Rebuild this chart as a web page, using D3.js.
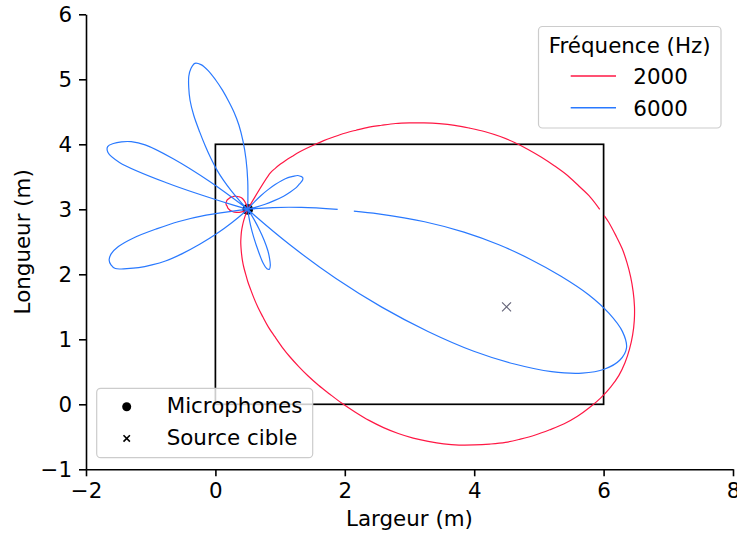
<!DOCTYPE html>
<html>
<head>
<meta charset="utf-8">
<script src="https://cdn.jsdelivr.net/npm/d3@7"></script>
<style>
  body { margin: 0; background: #fff; }
  text { font-family: "DejaVu Sans", sans-serif; }
</style>
</head>
<body>
<svg id="chart" width="737" height="534"></svg>
<script>
// ---- data ----
const xTicks = [-2, 0, 2, 4, 6, 8];
const yTicks = [-1, 0, 1, 2, 3, 4, 5, 6];
const frequencies = ["2000", "6000"];
const roomX = [0, 6];
const roomY = [0, 4];
const micX = [0.49, 0.51, 0.49, 0.51];
const micY = [2.99, 2.99, 3.01, 3.01];
const arrayCenter = [0.5, 3];
const sourceX = [4.5];
const sourceY = [1.5];

// beam patterns around the array centre: [angle (deg), radius (m)]
const beam2000 = [
  [0,5.44],[2,5.30],[4,5.13],[6,4.97],[8,4.79],[10,4.61],[12,4.43],[14,4.25],[16,4.06],[18,3.86],
  [20,3.65],[22,3.45],[24,3.24],[26,3.03],[28,2.83],[30,2.64],[32,2.44],[34,2.26],[36,2.07],[38,1.90],
  [40,1.73],[42,1.58],[44,1.43],[46,1.30],[48,1.18],[50,1.06],[52,0.96],[54,0.86],[56,0.76],[58,0.66],
  [60,0.15],[62,0],[102,0],[104,0.05],[108,0.09],[112,0.14],[116,0.18],[120,0.21],[124,0.23],[128,0.25],
  [132,0.27],[136,0.29],[140,0.30],[144,0.32],[148,0.33],[152,0.34],[156,0.35],[160,0.35],[164,0.35],
  [168,0.34],[172,0.32],[176,0.31],[180,0.29],[184,0.27],[188,0.24],[192,0.21],[196,0.17],[200,0.14],
  [204,0.10],[208,0.06],[212,0.03],[216,0],[246,0],[248,0.08],[250,0.17],[252,0.26],[254,0.35],
  [256,0.43],[258,0.52],[260,0.60],[262,0.69],[264,0.79],[266,0.89],[268,0.99],[270,1.11],[272,1.23],
  [274,1.37],[276,1.52],[278,1.67],[280,1.84],[282,2.00],[284,2.18],[286,2.36],[288,2.54],[290,2.73],
  [292,2.92],[294,3.11],[296,3.32],[298,3.53],[300,3.75],[302,3.96],[304,4.16],[306,4.35],[308,4.53],
  [310,4.71],[312,4.88],[314,5.04],[316,5.20],[318,5.36],[320,5.50],[322,5.64],[324,5.77],[326,5.90],
  [328,6.01],[330,6.10],[332,6.18],[334,6.24],[336,6.28],[338,6.29],[340,6.28],[342,6.255],[344,6.215],
  [346,6.16],[348,6.09],[350,6.01],[352,5.92],[354,5.82],[356,5.70],[358,5.58],[359,5.51]
];
const beam6000 = [
  [0,1.39],[2,0.83],[4,0.39],[6,0.05],[8,0],[12,0],[14,0.12],[16,0.28],[18,0.43],[20,0.59],
  [22,0.71],[24,0.82],[26,0.89],[28,0.96],[30,0.98],[32,0.96],[34,0.93],[36,0.86],[38,0.79],[40,0.69],
  [42,0.57],[44,0.43],[46,0.29],[48,0.15],[50,0.05],[52,0],[88,0],[90,0.43],[92,0.77],[94,1.05],
  [96,1.30],[98,1.50],[100,1.68],[102,1.87],[104,2.05],[106,2.22],[108,2.34],[110,2.39],[112,2.34],
  [114,2.24],[116,2.08],[118,1.90],[120,1.67],[122,1.40],[124,1.17],[126,0.97],[128,0.79],[130,0.59],
  [132,0.37],[134,0.15],[136,0],[140,0],[142,0.03],[144,0.72],[146,1.39],[148,1.87],[150,2.08],
  [152,2.21],[154,2.31],[156,2.37],[158,2.33],[160,2.11],[162,1.31],[164,0.23],[166,0],[184,0],
  [186,0.12],[188,0.65],[190,1.08],[192,1.43],[194,1.82],[196,2.08],[198,2.22],[200,2.28],[202,2.28],
  [204,2.24],[206,2.08],[208,1.91],[210,1.71],[212,1.50],[214,1.22],[216,0.91],[218,0.62],[220,0.31],
  [222,0.05],[224,0],[276,0],[278,0.09],[280,0.25],[282,0.43],[284,0.63],[286,0.86],[288,0.96],
  [290,0.98],[292,0.93],[294,0.83],[296,0.71],[298,0.54],[300,0.35],[302,0.17],[304,0.03],[306,0],
  [316,0],[318,0.15],[320,0.85],[322,1.73],[324,2.56],[326,3.36],[328,4.12],[330,4.76],[332,5.32],
  [334,5.75],[336,6.04],[338,6.20],[340,6.23],[342,6.09],[344,5.81],[346,5.43],[348,4.95],[350,4.44],
  [352,3.92],[354,3.36],[356,2.74],[358,2.02],[359,1.64]
];
const beams = { "2000": beam2000, "6000": beam6000 };
const colors = { "2000": "#ff1744", "6000": "#2979ff" };

// ---- layout ----
const W = 737, H = 534;
const FONT = 21.4;
const x = d3.scaleLinear().domain([-2, 8]).range([86, 733]);
const y = d3.scaleLinear().domain([-1, 6]).range([469.3, 14.3]);

const svg = d3.select("#chart");
svg.append("rect").attr("width", W).attr("height", H).attr("fill", "#fff");

const fmt = d => d < 0 ? "\u2212" + Math.abs(d) : String(d);

// axes (left and bottom spines only)
const gx = svg.append("g")
  .attr("transform", `translate(0,${y(-1)})`)
  .call(d3.axisBottom(x).tickValues(xTicks).tickFormat(fmt).tickSize(7).tickPadding(7).tickSizeOuter(0));
const gy = svg.append("g")
  .attr("transform", `translate(${x(-2)},0)`)
  .call(d3.axisLeft(y).tickValues(yTicks).tickFormat(fmt).tickSize(7).tickPadding(7).tickSizeOuter(0));
[gx, gy].forEach(g => {
  g.attr("font-family", "DejaVu Sans, sans-serif").attr("font-size", FONT);
  g.select(".domain").attr("stroke", "#000").attr("stroke-width", 1.6);
  g.selectAll(".tick line").attr("stroke", "#000").attr("stroke-width", 1.6);
  g.selectAll(".tick text").attr("fill", "#000");
});

svg.append("text").attr("x", (x(-2) + x(8)) / 2).attr("y", 526)
  .attr("text-anchor", "middle").attr("font-size", FONT).text("Largeur (m)");
svg.append("text").attr("transform", `translate(30,${(y(-1) + y(6)) / 2}) rotate(-90)`)
  .attr("text-anchor", "middle").attr("font-size", FONT).text("Longueur (m)");

// room outline
svg.append("rect")
  .attr("x", x(roomX[0])).attr("y", y(roomY[1]))
  .attr("width", x(roomX[1]) - x(roomX[0])).attr("height", y(roomY[0]) - y(roomY[1]))
  .attr("fill", "none").attr("stroke", "#000").attr("stroke-width", 1.7);

// microphones
svg.append("g").selectAll("circle").data(micX.map((v, i) => [v, micY[i]])).join("circle")
  .attr("cx", d => x(d[0])).attr("cy", d => y(d[1])).attr("r", 4.5).attr("fill", "#000");

// target source
const cross = (g, cx, cy, h, color, w) => {
  g.append("path")
    .attr("d", `M${cx - h},${cy - h}L${cx + h},${cy + h}M${cx - h},${cy + h}L${cx + h},${cy - h}`)
    .attr("stroke", color).attr("stroke-width", w).attr("fill", "none");
};
sourceX.forEach((sx, i) => cross(svg, x(sx), y(sourceY[i]), 4.5, "#646478", 1.1));

// beam patterns (open paths: the first and last angle are not joined)
const toXY = ([a, r]) => {
  const t = a * Math.PI / 180;
  return [x(arrayCenter[0] + r * Math.cos(t)), y(arrayCenter[1] + r * Math.sin(t))];
};
const line = d3.line().curve(d3.curveCatmullRom.alpha(0.5));
frequencies.forEach(f => {
  svg.append("path").attr("d", line(beams[f].map(toXY)))
    .attr("fill", "none").attr("stroke", colors[f]).attr("stroke-width", 1.2)
    .attr("stroke-linejoin", "round");
});

// legend: frequencies
const lg1 = svg.append("g");
lg1.append("rect").attr("x", 538.5).attr("y", 26.5).attr("width", 182.5).attr("height", 101.5)
  .attr("rx", 4).attr("fill", "#fff").attr("fill-opacity", 0.8)
  .attr("stroke", "#cccccc").attr("stroke-width", 1.2);
lg1.append("text").attr("x", 629.7).attr("y", 52.7).attr("text-anchor", "middle")
  .attr("font-size", FONT).text("Fréquence (Hz)");
frequencies.forEach((f, i) => {
  const ly = 76 + i * 31.7;
  lg1.append("line").attr("x1", 570.7).attr("x2", 616).attr("y1", ly).attr("y2", ly)
    .attr("stroke", colors[f]).attr("stroke-width", 1.5);
  lg1.append("text").attr("x", 633.3).attr("y", ly + 7.8).attr("font-size", FONT).text(f);
});

// legend: markers
const lg2 = svg.append("g");
lg2.append("rect").attr("x", 96.7).attr("y", 388.3).attr("width", 216).attr("height", 69.4)
  .attr("rx", 4).attr("fill", "#fff").attr("fill-opacity", 0.8)
  .attr("stroke", "#cccccc").attr("stroke-width", 1.2);
lg2.append("circle").attr("cx", 126.7).attr("cy", 406.7).attr("r", 4.5).attr("fill", "#000");
cross(lg2, 126.7, 438.4, 3.2, "#000", 1.6);
lg2.append("text").attr("x", 166.7).attr("y", 413).attr("font-size", FONT).text("Microphones");
lg2.append("text").attr("x", 166.7).attr("y", 444.7).attr("font-size", FONT).text("Source cible");
</script>
</body>
</html>
